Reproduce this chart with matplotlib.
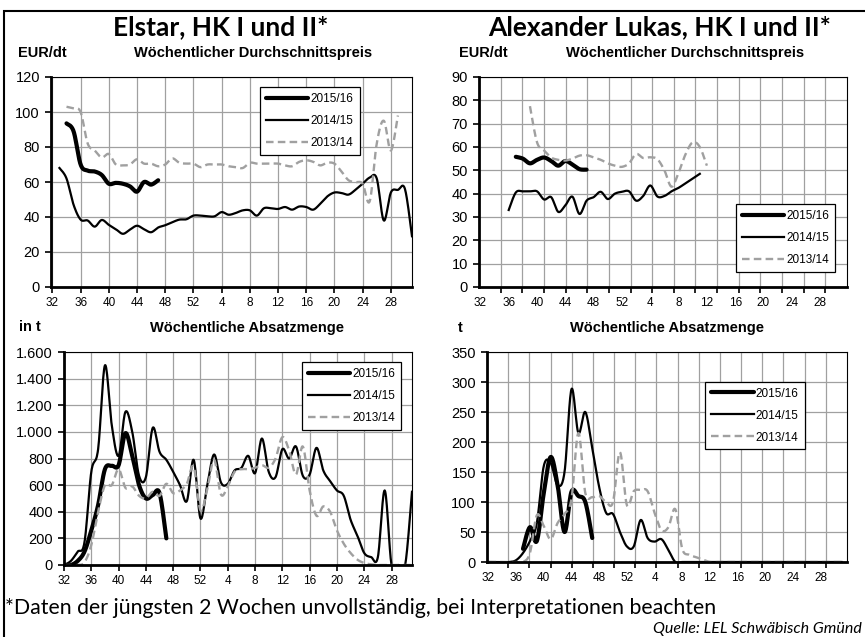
import numpy as np
import matplotlib.pyplot as plt
from matplotlib.patches import Rectangle

plt.rcParams['font.family'] = ['Liberation Sans', 'DejaVu Sans']

# x-Achse: Index 0 = KW 32, Index 20 = KW 52, Index 21 = KW 1 ...
kw_pos = [0, 4, 8, 12, 16, 20, 24, 28, 32, 36, 40, 44, 48]
kw_labels = ['32', '36', '40', '44', '48', '52', '4', '8', '12', '16', '20', '24', '28']
saisons = ['2015/16', '2014/15', '2013/14']

# Elstar, Preis EUR/dt  (Startindex je Saison)
elstar_preis_start = [2, 1, 2]
elstar_preis_1516 = [93.5, 89, 70, 66.5, 66, 64, 59, 59.5, 59, 57.5, 54.5, 60, 58.5, 61]
elstar_preis_1415 = [68, 62, 47, 38.5, 38, 34.5, 38.3, 35.5, 33, 30.4, 32.8, 35, 33, 31.3, 34,
                     35.3, 37, 38.5, 38.7, 40.8, 40.8, 40.4, 40.4, 42.8, 41.3, 42.3, 43.8, 43.8,
                     40.8, 45, 45, 44.6, 45.7, 44.2, 46, 45.7, 44.2, 47.6, 51.8, 54, 53.7, 52.8,
                     55.6, 59, 62.5, 62, 38, 54, 55.5, 56, 29]
elstar_preis_1314 = [103, 102, 100, 82, 78, 74, 76, 70, 69.5, 70, 73, 70.5, 70.5, 69, 70, 73.5,
                     71, 70.5, 70.5, 68.5, 70, 70, 70, 69, 68.5, 68, 71, 70.5, 70.5, 70.5, 70.5,
                     69.5, 69, 71.5, 72.4, 71.5, 69.5, 71, 70.5, 66, 61, 60, 59, 49, 82, 95, 78, 98]

# Elstar, Absatzmenge in t
elstar_menge_start = [0, 0, 0]
elstar_menge_1516 = [0, 0, 30, 100, 260, 450, 720, 745, 750, 990, 820, 600, 500, 525, 540, 200]
elstar_menge_1415 = [0, 30, 100, 170, 700, 870, 1500, 1050, 820, 1150, 1000, 670, 660, 1030, 850,
                     790, 700, 600, 480, 790, 350, 600, 830, 620, 610, 710, 730, 820, 690, 950,
                     700, 660, 870, 800, 890, 670, 680, 880, 710, 630, 560, 520, 340, 220, 90,
                     60, 60, 560, 0, 0, 0, 550]
elstar_menge_1314 = [0, 0, 0, 20, 150, 400, 600, 600, 720, 580, 590, 520, 500, 550, 520, 610,
                     540, 560, 610, 740, 410, 570, 790, 530, 590, 700, 720, 720, 730, 750, 730,
                     800, 960, 860, 680, 890, 560, 370, 440, 400, 260, 160, 90, 40, 15, 5,
                     0, 0, 0, 0, 0, 0]

# Alexander Lukas, Preis EUR/dt
lukas_preis_start = [5, 4, 7]
lukas_preis_1516 = [55.8, 55, 53, 54.5, 55.5, 54, 52, 54, 52.5, 50.5, 50.3]
lukas_preis_1415 = [33, 40.5, 41, 41, 41, 37.5, 38.5, 32.2, 35, 38.7, 31.3, 37, 38.5, 40.8, 37.7,
                    40, 40.8, 41, 37, 39, 43.5, 38.8, 39, 41, 42.5, 44.5, 46.5, 48.5]
lukas_preis_1314 = [77.5, 62, 58.5, 55.5, 54.5, 54.2, 55, 56.3, 56.5, 55.5, 54.5, 53, 52, 51.5,
                    53, 57, 55.3, 55.6, 54.8, 50, 43, 49, 57, 62, 60, 52]

# Alexander Lukas, Absatzmenge in t
lukas_menge_start = [5, 0, 0]
lukas_menge_1516 = [22, 58, 35, 115, 175, 128, 50, 117, 110, 100, 40]
lukas_menge_1415 = [0, 0, 0, 0, 3, 15, 35, 65, 160, 165, 128, 150, 288, 215, 250, 190, 125, 82,
                    80, 50, 26, 26, 70, 40, 34, 38, 20, 0, 0, 0, 0, 0, 0, 0, 0, 0, 0, 0, 0, 0,
                    0, 0, 0, 0, 0, 0, 0, 0, 0, 0, 0, 0]
lukas_menge_1314 = [0, 0, 0, 0, 0, 0, 15, 78, 60, 38, 65, 80, 105, 215, 115, 108, 110, 100, 100,
                    183, 95, 118, 120, 118, 82, 53, 58, 88, 22, 12, 8, 4, 0, 0, 0, 0, 0, 0, 0,
                    0, 0, 0, 0, 0, 0, 0, 0, 0, 0, 0, 0, 0]

stil = {
    '2015/16': dict(color='black', lw=3.0, solid_capstyle='round'),
    '2014/15': dict(color='black', lw=1.6),
    '2013/14': dict(color='#a0a0a0', lw=1.7, dashes=(3.2, 1.8)),
}


def glatt(x, y, n=16):
    # geglättete Linie wie in Excel (Catmull-Rom als Bezier)
    x = np.asarray(x, float)
    y = np.asarray(y, float)
    px = np.concatenate([[x[0]], x, [x[-1]]])
    py = np.concatenate([[y[0]], y, [y[-1]]])
    t = np.linspace(0, 1, n, endpoint=False)[:, None]
    out = []
    for p in (px, py):
        p0, p1, p2, p3 = p[:-3], p[1:-2], p[2:-1], p[3:]
        b1 = p1 + (p2 - p0) / 6
        b2 = p2 - (p3 - p1) / 6
        c = (1 - t) ** 3 * p1 + 3 * (1 - t) ** 2 * t * b1 + 3 * (1 - t) * t ** 2 * b2 + t ** 3 * p2
        out.append(np.append(c.T.ravel(), p[-2]))
    return out


def panel(ax, starts, reihen, ymax, ystep, xlim, rechts, fmt, leg_pos):
    for s, werte, name in zip(starts, reihen, saisons):
        xs = np.arange(s, s + len(werte))
        gx, gy = glatt(xs, werte)
        ax.plot(gx, gy, label=name, **stil[name])
    ax.set_xlim(*xlim)
    ax.set_ylim(0, ymax)
    ax.set_yticks(np.arange(0, ymax + 1, ystep))
    ax.set_yticklabels([fmt(v) for v in np.arange(0, ymax + 1, ystep)])
    if rechts:
        ax.set_xticks(np.linspace(xlim[0], xlim[1], 18)[1:-1])
        ax.set_xticklabels([])
        ax.set_xticks(kw_pos, minor=True)
        ax.set_xticklabels(kw_labels, minor=True)
        ax.tick_params(axis='x', which='minor', length=0, labelsize=8.5, pad=7)
    else:
        ax.set_xticks(kw_pos)
        ax.set_xticklabels(kw_labels)
    ax.tick_params(axis='x', which='major', direction='out', length=4, width=1.2,
                   labelsize=8.5, pad=3)
    ax.tick_params(axis='y', direction='out', length=4, width=1.2, labelsize=10.5, pad=4)
    ax.grid(True, which='major', color='#a0a0a0', lw=0.9)
    ax.set_axisbelow(True)
    for sp in ['left', 'bottom']:
        ax.spines[sp].set_linewidth(2.0)
    for sp in ['top', 'right']:
        ax.spines[sp].set_linewidth(0.8)
    leg = ax.legend(loc='upper left', bbox_to_anchor=leg_pos, fontsize=8.5, fancybox=False,
                    edgecolor='black', framealpha=1, handlelength=3.6, handletextpad=0.2,
                    borderpad=0.5, labelspacing=0.85, borderaxespad=0)
    leg.get_frame().set_linewidth(0.9)


fig = plt.figure(figsize=(8.65, 6.37), dpi=100)
W, H = 865, 637


def box(x0, y0, x1, y1):
    return [x0 / W, 1 - y1 / H, (x1 - x0) / W, (y1 - y0) / H]


zahl = lambda v: f'{int(v)}'
tausend = lambda v: f'{int(v):,}'.replace(',', '.')

ax1 = fig.add_axes(box(51, 77, 412, 287))
panel(ax1, elstar_preis_start, [elstar_preis_1516, elstar_preis_1415, elstar_preis_1314],
      120, 20, (-0.2, 51), False, zahl, (0.579, 0.952))

ax2 = fig.add_axes(box(479, 77, 847, 287))
panel(ax2, lukas_preis_start, [lukas_preis_1516, lukas_preis_1415, lukas_preis_1314],
      90, 10, (-0.2, 51.8), True, zahl, (0.698, 0.395))

ax3 = fig.add_axes(box(64, 352, 412, 565))
panel(ax3, elstar_menge_start, [elstar_menge_1516, elstar_menge_1415, elstar_menge_1314],
      1600, 200, (0, 51), False, tausend, (0.683, 0.954))

ax4 = fig.add_axes(box(487, 352, 847, 562))
panel(ax4, lukas_menge_start, [lukas_menge_1516, lukas_menge_1415, lukas_menge_1314],
      350, 50, (-0.2, 51.8), True, zahl, (0.606, 0.859))

titel = dict(family=['Lato', 'DejaVu Sans'], weight='bold', size=19)
fig.text(221 / W, 1 - 35 / H, 'Elstar, HK I und II*', ha='center', va='baseline', **titel)
fig.text(660 / W, 1 - 35 / H, 'Alexander Lukas, HK I und II*', ha='center', va='baseline', **titel)

unter = dict(weight='bold', size=10.5, va='center')
fig.text(42 / W, 1 - 53 / H, 'EUR/dt', ha='center', **unter)
fig.text(253 / W, 1 - 53 / H, 'Wöchentlicher Durchschnittspreis', ha='center', **unter)
fig.text(483 / W, 1 - 53 / H, 'EUR/dt', ha='center', **unter)
fig.text(685 / W, 1 - 53 / H, 'Wöchentlicher Durchschnittspreis', ha='center', **unter)
fig.text(30 / W, 1 - 327 / H, 'in t', ha='center', **unter)
fig.text(247 / W, 1 - 328 / H, 'Wöchentliche Absatzmenge', ha='center', **unter)
fig.text(460 / W, 1 - 328 / H, 't', ha='center', **unter)
fig.text(667 / W, 1 - 328 / H, 'Wöchentliche Absatzmenge', ha='center', **unter)

fig.text(5 / W, 1 - 608 / H, '*Daten der jüngsten 2 Wochen unvollständig, bei Interpretationen beachten',
         ha='left', va='center', family=['Lato', 'DejaVu Sans'], size=15.3)
fig.text(862 / W, 1 - 629 / H, 'Quelle: LEL Schwäbisch Gmünd', ha='right', va='center',
         family=['Lato', 'DejaVu Sans'], style='italic', size=11.5)

fig.patches.append(Rectangle((4 / W, -0.1), 2, 1.1 - 11 / H, transform=fig.transFigure,
                             fill=False, ec='black', lw=1.5))

fig.savefig('out.png', dpi=100)
